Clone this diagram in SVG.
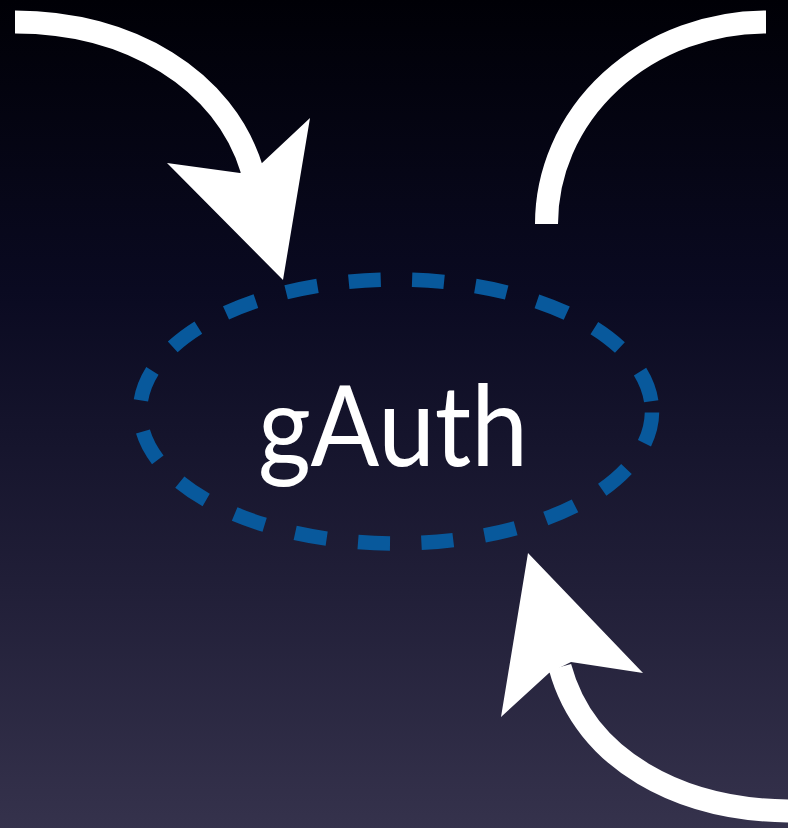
<svg xmlns="http://www.w3.org/2000/svg" width="788" height="828" viewBox="0 0 788 828">
  <defs>
    <linearGradient id="bg" x1="0" y1="0" x2="0" y2="1">
      <stop offset="0" stop-color="#000006"/>
      <stop offset="0.35" stop-color="#0a0a21"/>
      <stop offset="0.7" stop-color="#201e37"/>
      <stop offset="1" stop-color="#35324c"/>
    </linearGradient>
    <style>
      .shaft { fill: none; stroke: #ffffff; stroke-width: 23; stroke-linecap: butt; }
      .head { fill: #ffffff; stroke: none; }
      .ring { fill: none; stroke: #08599c; stroke-width: 14.5; stroke-dasharray: 32 31.5; stroke-dashoffset: -1; }
      .label { font-family: Lato, "Open Sans", "Liberation Sans", sans-serif; font-size: 112px; fill: #ffffff; }
    </style>
  </defs>
  <rect x="0" y="0" width="788" height="828" fill="url(#bg)"/>

  <g id="gauth">
    <ellipse class="ring" cx="396" cy="411.5" rx="256" ry="132"/>
    <text class="label" x="393" y="466" text-anchor="middle" textLength="270" lengthAdjust="spacingAndGlyphs">gAuth</text>
  </g>

  <g id="connectors">
    <g id="arrow-in-top">
      <path class="shaft" d="M 15 22 C 130 22 225 80 252 170"/>
      <polygon class="head" points="283,280 167,163 240,173 262,163 310,118"/>
    </g>
    <g id="arc-out-top">
      <path class="shaft" d="M 766 22 A 220 202 0 0 0 546.5 224"/>
    </g>
    <g id="arrow-in-bottom">
      <path class="shaft" d="M 792 811 C 680 811 585 760 560 667"/>
      <polygon class="head" points="528,553 501,717 549,673 571,662 643,673"/>
    </g>
  </g>
</svg>
